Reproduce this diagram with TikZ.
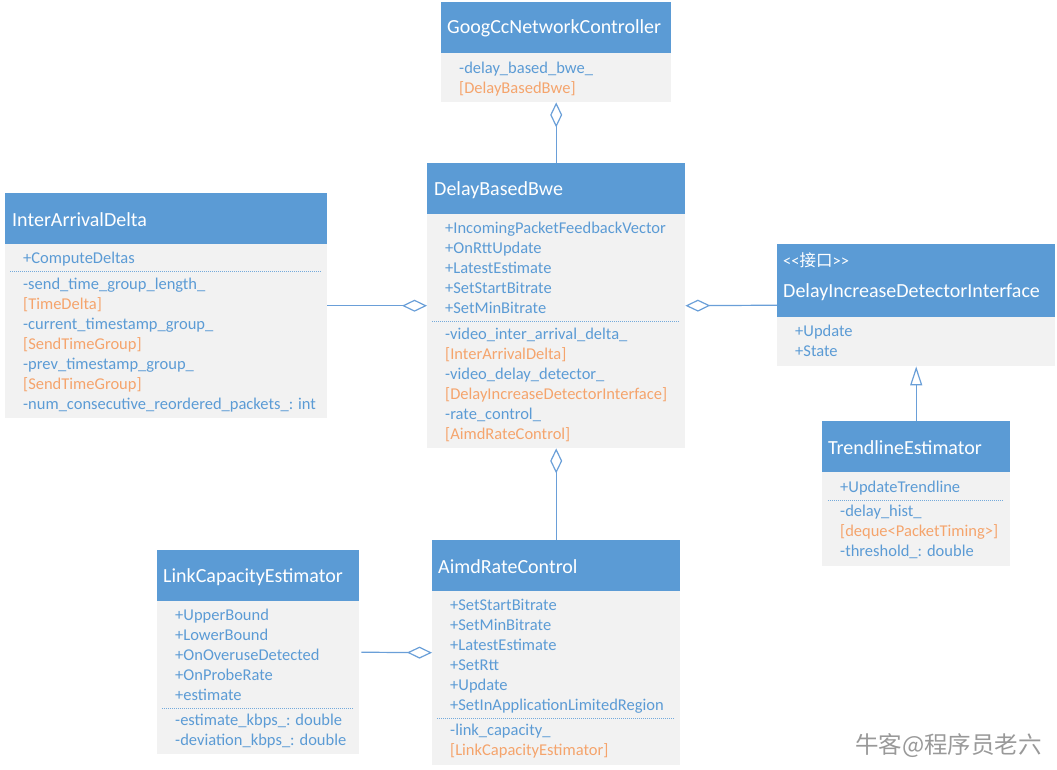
\documentclass[tikz,border=0pt]{standalone}
\usepackage{fontspec}
\setmainfont{Carlito}
\newfontfamily\cjk{Noto Sans CJK SC}
\usetikzlibrary{arrows.meta}

\definecolor{hdblue}{HTML}{5B9BD5}
\definecolor{bodygrey}{HTML}{F2F2F2}
\definecolor{txtblue}{HTML}{5B9BD5}
\definecolor{typeorange}{HTML}{F5A46C}
\definecolor{linkblue}{HTML}{6A9FD8}
\newcommand{\tyname}[1]{\textcolor{typeorange}{[#1]}}

\tikzset{
  cls/.style={fill=bodygrey, inner sep=0pt, anchor=north west},
  head/.style={fill=hdblue, inner sep=0pt, anchor=north},
  title/.style={anchor=west, inner sep=0pt, yshift=-1pt, text=white, font=\fontsize{20}{24}\selectfont},
  member/.style={anchor=west, inner sep=0pt, yshift=-1.5pt, text=txtblue, font=\fontsize{16.5}{20}\selectfont,
                 text height=12pt, text depth=3.5pt},
  sep/.style={txtblue!85, line width=0.8pt, dash pattern=on 1pt off 1pt},
  agg/.style={linkblue, line width=1.2pt, -{Diamond[open, length=25pt, width=12pt]}},
  impl/.style={linkblue, line width=1.2pt, -{Triangle[open, length=19pt, width=12pt]}},
}

\begin{document}
\begin{tikzpicture}[x=1pt, y=-1pt]
  \useasboundingbox (0,0) rectangle (1057,769);

  % GoogCcNetworkController
  \node[cls, minimum width=230pt, minimum height=100pt] (goog) at (441,2) {};
  \node[head, minimum width=230pt, minimum height=51pt] (googH) at (goog.north) {};
  \node[title] (googT) at ([xshift=6pt]googH.west) {GoogCcNetworkController};
  \foreach \mtxt [count=\i] in {-delay\_based\_bwe\_, {\tyname{DelayBasedBwe}}}
    \node[member] (googm\i) at (459,{48+20*\i}) {\mtxt};

  % DelayBasedBwe
  \node[cls, minimum width=258pt, minimum height=285pt] (dbw) at (427,163) {};
  \node[head, minimum width=258pt, minimum height=51pt] (dbwH) at (dbw.north) {};
  \node[title] (dbwT) at ([xshift=7pt]dbwH.west) {DelayBasedBwe};
  \foreach \mtxt [count=\i] in {+IncomingPacketFeedbackVector, +OnRttUpdate, +LatestEstimate,
                                +SetStartBitrate, +SetMinBitrate}
    \node[member] (dbwop\i) at (445,{208+20*\i}) {\mtxt};
  \draw[sep] (432,321) -- (680,321);
  \foreach \mtxt [count=\i] in {-video\_inter\_arrival\_delta\_, {\tyname{InterArrivalDelta}},
                                -video\_delay\_detector\_, {\tyname{DelayIncreaseDetectorInterface}},
                                -rate\_control\_, {\tyname{AimdRateControl}}}
    \node[member] (dbwat\i) at (445,{314+20*\i}) {\mtxt};

  % InterArrivalDelta
  \node[cls, minimum width=322pt, minimum height=225pt] (iad) at (5,193) {};
  \node[head, minimum width=322pt, minimum height=51pt] (iadH) at (iad.north) {};
  \node[title] (iadT) at ([xshift=7pt]iadH.west) {InterArrivalDelta};
  \node[member] (iadop1) at (23,258) {+ComputeDeltas};
  \draw[sep] (10,271) -- (322,271);
  \foreach \mtxt [count=\i] in {-send\_time\_group\_length\_, {\tyname{TimeDelta}},
                                -current\_timestamp\_group\_, {\tyname{SendTimeGroup}},
                                -prev\_timestamp\_group\_, {\tyname{SendTimeGroup}},
                                -num\_consecutive\_reordered\_packets\_: int}
    \node[member] (iadat\i) at (23,{264+20*\i}) {\mtxt};

  % DelayIncreaseDetectorInterface
  \node[cls, minimum width=278pt, minimum height=122pt] (dif) at (777,244) {};
  \node[head, minimum width=278pt, minimum height=73pt] (difH) at (dif.north) {};
  \node[member, text=white] (difS) at (783,261) {<{}<{\cjk 接口}>{}>};
  \node[title] (difT) at (783,291) {DelayIncreaseDetectorInterface};
  \foreach \mtxt [count=\i] in {+Update, +State}
    \node[member] (difop\i) at (795,{311+20*\i}) {\mtxt};

  % TrendlineEstimator
  \node[cls, minimum width=188pt, minimum height=145pt] (tre) at (822,421) {};
  \node[head, minimum width=188pt, minimum height=51pt] (treH) at (tre.north) {};
  \node[title] (treT) at ([xshift=6pt]treH.west) {TrendlineEstimator};
  \node[member] (treop1) at (840,487) {+UpdateTrendline};
  \draw[sep] (828,500) -- (1004,500);
  \foreach \mtxt [count=\i] in {-delay\_hist\_, {\tyname{deque<PacketTiming>}}, -threshold\_: double}
    \node[member] (treat\i) at (840,{491+20*\i}) {\mtxt};

  % LinkCapacityEstimator
  \node[cls, minimum width=202pt, minimum height=204pt] (lce) at (157,550) {};
  \node[head, minimum width=202pt, minimum height=51pt] (lceH) at (lce.north) {};
  \node[title] (lceT) at ([xshift=6pt]lceH.west) {LinkCapacityEstimator};
  \foreach \mtxt [count=\i] in {+UpperBound, +LowerBound, +OnOveruseDetected, +OnProbeRate, +estimate}
    \node[member] (lceop\i) at (175,{595+20*\i}) {\mtxt};
  \draw[sep] (162,708) -- (354,708);
  \foreach \mtxt [count=\i] in {-estimate\_kbps\_: double, -deviation\_kbps\_: double}
    \node[member] (lceat\i) at (175,{700+20*\i}) {\mtxt};

  % AimdRateControl
  \node[cls, minimum width=248pt, minimum height=225pt] (aimd) at (432,540) {};
  \node[head, minimum width=248pt, minimum height=51pt] (aimdH) at (aimd.north) {};
  \node[title] (aimdT) at ([xshift=6pt]aimdH.west) {AimdRateControl};
  \foreach \mtxt [count=\i] in {+SetStartBitrate, +SetMinBitrate, +LatestEstimate, +SetRtt, +Update,
                                +SetInApplicationLimitedRegion}
    \node[member] (aimdop\i) at (450,{585+20*\i}) {\mtxt};
  \draw[sep] (437,718) -- (675,718);
  \foreach \mtxt [count=\i] in {-link\_capacity\_, {\tyname{LinkCapacityEstimator}}}
    \node[member] (aimdat\i) at (450,{710+20*\i}) {\mtxt};

  % connectors
  \draw[agg] (dbw.north) -- (goog.south);
  \draw[agg] (iad.east) -- (dbw.west);
  \draw[agg] (dif.west) -- (dbw.east);
  \draw[agg] (aimd.north) -- (dbw.south);
  \draw[impl] (tre.north) -- (dif.south);
  \draw[agg, shorten <=2pt] (lce.east) -- (aimd.west);

  % watermark
  \node[anchor=west, inner sep=0pt, text=black!40, font=\cjk\fontsize{23.5}{26}\selectfont] (mark)
    at (855,746) {牛客@程序员老六};
\end{tikzpicture}
\end{document}
